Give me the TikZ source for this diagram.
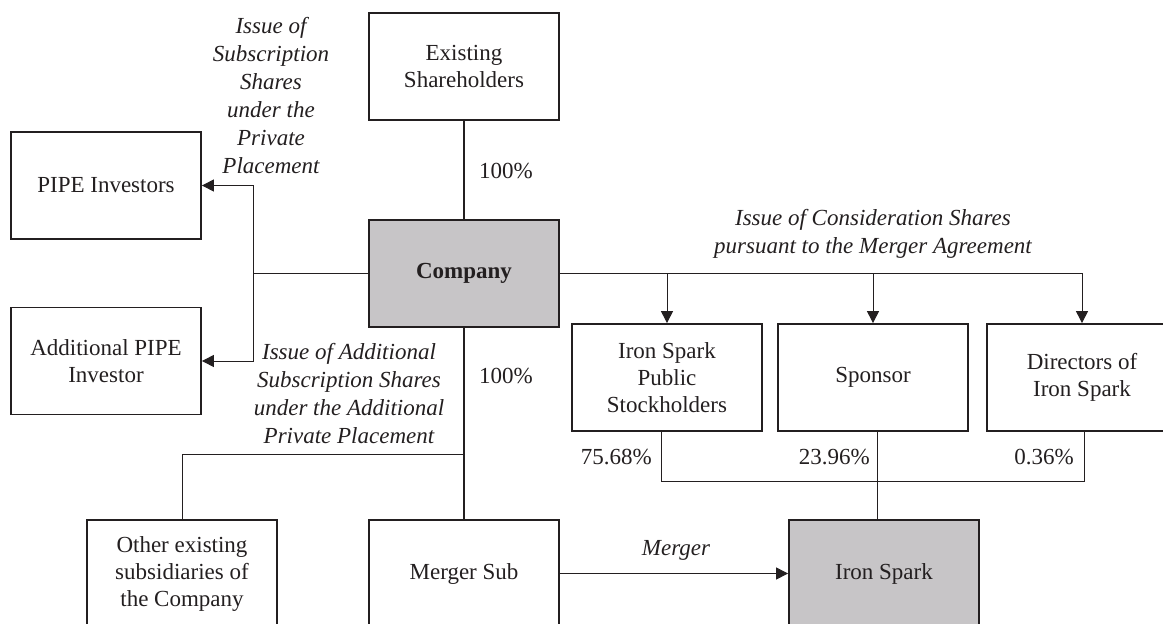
\documentclass[tikz,border=0pt]{standalone}
\usepackage{fontspec}
\setmainfont{Liberation Serif}
\usetikzlibrary{arrows.meta}
\definecolor{boxgray}{RGB}{199,197,199}
\definecolor{ink}{RGB}{35,31,32}
\tikzset{
  every node/.style={text=ink},
  entity/.style={draw=ink, line width=1.8pt, minimum width=190pt, minimum height=107pt,
    inner sep=0pt, align=center, font=\fontsize{23}{27}\selectfont},
  shaded/.style={entity, fill=boxgray},
  conn/.style={draw=ink, line width=1pt},
  mainconn/.style={draw=ink, line width=1.6pt},
  arr/.style={conn, -{Triangle[length=12pt,width=12pt]}},
  lbl/.style={font=\fontsize{23}{28}\selectfont, inner sep=0pt},
  ilbl/.style={font=\fontsize{23}{28}\selectfont\itshape, inner sep=0pt, align=center},
}
\begin{document}
\begin{tikzpicture}[x=1pt,y=-1pt]
\useasboundingbox (0,0) rectangle (1163,624);

% boxes
\node[entity] (es) at (464,66.5) {Existing\\Shareholders};
\node[entity] (pipe) at (106,185.5) {PIPE Investors};
\node[shaded] (comp) at (464,273.5) {\textbf{Company}};
\node[entity] (apipe) at (106,361) {Additional PIPE\\Investor};
\node[entity] (other) at (182,573.5) {Other existing\\subsidiaries of\\the Company};
\node[entity] (msub) at (464,573.5) {Merger Sub};
\node[entity] (isps) at (667,377.5) {Iron Spark\\Public\\Stockholders};
\node[entity] (spon) at (873,377.5) {Sponsor};
\node[entity] (dir) at (1082,377.5) {Directors of\\Iron Spark};
\node[shaded] (iron) at (884,573.5) {Iron Spark};

% junction coordinates
\coordinate (jl) at (253,273.5);
\coordinate (jd) at (464,454);
\coordinate (jbl) at (661,481);
\coordinate (jbm) at (877,481);
\coordinate (jbr) at (1084,481);

% existing shareholders -> company
\draw[mainconn] (es.south) -- (comp.north);
\node[lbl] (p1) at (506,171) {100\%};

% company -> PIPE investors
\draw[conn] (comp.west) -- (jl);
\draw[arr] (jl) |- (pipe.east);
\draw[arr] (jl) |- (apipe.east);

% company -> consideration shares recipients
\draw[arr] (comp.east) -| (dir.north);
\draw[arr] (isps.north |- comp.east) -- (isps.north);
\draw[arr] (spon.north |- comp.east) -- (spon.north);

% company -> subsidiaries
\draw[mainconn] (comp.south) -- (msub.north);
\draw[conn] (jd) -| (other.north);
\node[lbl] (p2) at (506,376) {100\%};

% merger
\draw[arr] (msub.east) -- (iron.west);
\node[ilbl] (mg) at (676,550) {Merger};

% Iron Spark ownership
\draw[conn] (isps.south -| jbl) -- (jbl) -- (jbr) -- (dir.south -| jbr);
\draw[conn] (spon.south -| jbm) -- (iron.north -| jbm);
\node[lbl, anchor=east] (q1) at (652,457) {75.68\%};
\node[lbl, anchor=east] (q2) at (870,457) {23.96\%};
\node[lbl, anchor=east] (q3) at (1074,457) {0.36\%};

% italic labels
\node[ilbl] (l1) at (271,96) {Issue of\\Subscription\\Shares\\under the\\Private\\Placement};
\node[ilbl] (l2) at (349,394) {Issue of Additional\\Subscription Shares\\under the Additional\\Private Placement};
\node[ilbl] (l3) at (873,233.5) {Issue of Consideration Shares\\pursuant to the Merger Agreement};
\end{tikzpicture}
\end{document}
